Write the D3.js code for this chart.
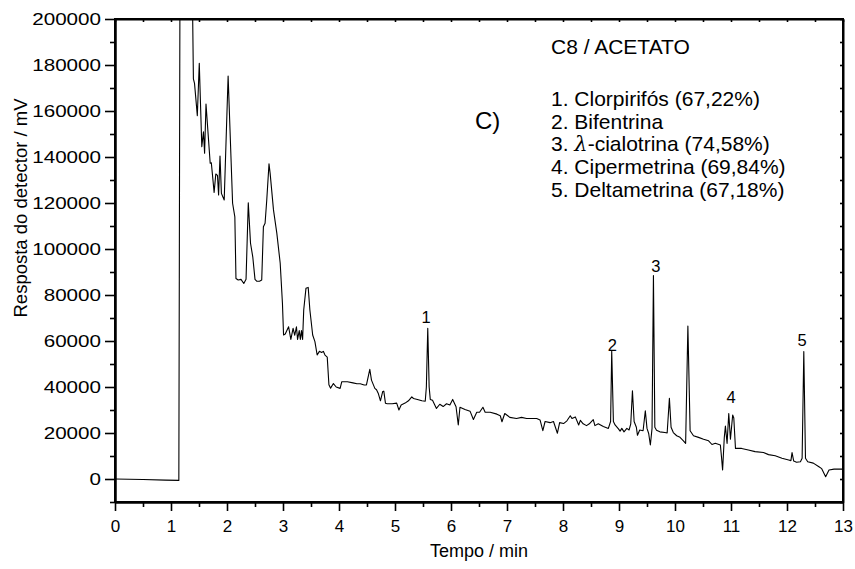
<!DOCTYPE html>
<html><head><meta charset="utf-8">
<script src="https://cdn.jsdelivr.net/npm/d3@7"></script>
<style>
body{margin:0;background:#fff}
svg{display:block}
text{font-family:"Liberation Sans",Arial,Helvetica,sans-serif;fill:#000}
</style>
</head><body>
<svg id="chart" width="855" height="569"></svg>
<script>
// ---- data (retention time in min, detector response in mV) ----
const time = [0,0.5,0.9,1.14,1.16,1.38,1.40,1.42,1.47,1.505,1.55,1.58,1.60,1.625,1.70,1.72,1.77,1.80,1.83,1.85,1.875,1.90,1.95,2.02,2.10,2.14,2.16,2.20,2.25,2.30,2.34,2.38,2.42,2.46,2.50,2.53,2.58,2.62,2.65,2.68,2.71,2.75,2.77,2.83,2.89,2.95,2.99,3.01,3.04,3.10,3.14,3.18,3.21,3.24,3.26,3.29,3.31,3.33,3.35,3.37,3.41,3.45,3.48,3.53,3.57,3.61,3.65,3.69,3.72,3.75,3.79,3.82,3.85,3.90,3.95,4.02,4.05,4.15,4.25,4.32,4.38,4.45,4.49,4.55,4.58,4.64,4.67,4.70,4.74,4.78,4.80,4.83,4.86,4.95,5.03,5.07,5.11,5.18,5.24,5.30,5.33,5.40,5.48,5.54,5.56,5.585,5.61,5.63,5.67,5.74,5.80,5.86,5.92,5.98,6.03,6.09,6.13,6.16,6.25,6.34,6.40,6.46,6.51,6.57,6.61,6.70,6.82,6.88,6.91,6.96,7.05,7.17,7.26,7.35,7.44,7.53,7.59,7.64,7.68,7.77,7.83,7.90,7.94,8.01,8.07,8.13,8.16,8.22,8.28,8.31,8.36,8.42,8.47,8.54,8.57,8.63,8.72,8.81,8.85,8.87,8.90,8.93,8.99,9.02,9.05,9.09,9.14,9.18,9.21,9.24,9.27,9.31,9.33,9.37,9.43,9.47,9.50,9.53,9.56,9.59,9.615,9.64,9.67,9.73,9.82,9.86,9.90,9.93,9.97,10.03,10.09,10.15,10.19,10.23,10.27,10.33,10.42,10.51,10.60,10.66,10.72,10.81,10.83,10.85,10.88,10.90,10.93,10.96,10.99,11.03,11.05,11.08,11.19,11.31,11.43,11.58,11.67,11.79,11.91,12.03,12.07,12.09,12.12,12.17,12.24,12.27,12.30,12.33,12.37,12.47,12.57,12.62,12.69,12.75,12.84,13.0];
const signal = [0,-200,-500,-600,215000,215000,174000,172000,158000,180700,144500,151000,141600,163000,137300,137500,124600,132600,132000,123500,140400,124200,121300,175200,119900,114000,87200,86500,86800,85000,86800,120100,102500,96600,86800,86000,86000,86500,109700,111200,121300,137000,133000,117000,106800,93800,76400,62600,63000,66200,60700,65500,62500,66200,60700,64500,60700,64500,60700,73500,82900,83300,73500,62600,59700,53900,55500,55000,55500,53900,53000,41000,39500,41500,40000,39400,42300,42300,41800,41400,41400,40900,40900,47700,43000,39400,38800,37300,34000,38000,38200,32900,32700,32700,33000,30000,32200,33000,34000,35700,35000,34600,34000,33800,40000,65500,40000,34600,34200,30700,32500,31500,32700,32200,34600,31400,23500,31200,30200,29500,25900,29000,29000,31200,29000,29000,28200,27500,24900,28500,26800,26300,26800,26300,26300,26300,25700,21000,25000,24500,25000,19900,24500,24100,25300,27500,26300,27000,23500,25500,24000,23200,24000,25800,23200,24000,22800,22000,25000,55500,25000,23500,21800,20800,22000,20500,22000,21300,24000,38400,25000,22500,19000,21300,21000,29700,22000,19800,14800,22000,88500,22500,21200,20500,20200,20000,35100,22500,20200,18800,18100,16600,15500,66500,21000,18800,18100,17300,16600,15000,15500,14800,9700,3900,18000,23000,15500,28500,17300,27800,26500,13300,13300,12600,11900,11500,10600,10100,9000,8300,8000,11500,7800,7300,7500,9000,55400,9000,7500,6900,5300,4500,1000,3900,4300,4300];

const xTicks = [0,1,2,3,4,5,6,7,8,9,10,11,12,13];
const yTicks = [0,20000,40000,60000,80000,100000,120000,140000,160000,180000,200000];
const xDomain = [0,13];
const yDomain = [-10000,200000];

const peakLabels = ["1","2","3","4","5"];
const peakLabelTime = [5.554,8.88,9.66,11.0,12.27];
const peakLabelValue = [68000,55700,90000,32900,57800];

const legendTitle = "C8 / ACETATO";
const legendItems = [
  ["1. Clorpirifós (67,22%)"],
  ["2. Bifentrina"],
  ["3. ", "λ", "-cialotrina (74,58%)"],
  ["4. Cipermetrina (69,84%)"],
  ["5. Deltametrina (67,18%)"]
];
const panelLabel = "C)";
const xTitle = "Tempo / min";
const yTitle = "Resposta do detector / mV";

// ---- layout ----
const L = 115, R = 843, T = 19, B = 502;
const svg = d3.select("#chart");
const x = d3.scaleLinear().domain(xDomain).range([L, R]);
const y = d3.scaleLinear().domain(yDomain).range([B, T]);

svg.append("defs").append("clipPath").attr("id","clip")
  .append("rect").attr("x",L).attr("y",T).attr("width",R-L).attr("height",B-T);

// trace
const line = d3.line().x((d,i)=>x(time[i])).y(d=>y(d));
svg.append("path").datum(signal)
  .attr("clip-path","url(#clip)")
  .attr("fill","none").attr("stroke","#000").attr("stroke-width",1.1)
  .attr("stroke-linejoin","round")
  .attr("d", line);

// axes
const fmt = d3.format("d");
const xMinor = d3.range(0.5, 13, 1);
const yMinor = d3.range(-10000, 200001, 20000);

svg.append("g").attr("class","xax").attr("transform",`translate(0,${B})`)
  .call(d3.axisBottom(x).tickValues(xTicks).tickFormat(fmt).tickSize(9).tickSizeOuter(0).tickPadding(9));
svg.append("g").attr("transform",`translate(0,${B})`)
  .call(d3.axisBottom(x).tickValues(xMinor).tickFormat("").tickSize(5).tickSizeOuter(0));
svg.append("g").attr("class","yax").attr("transform",`translate(${L},0)`)
  .call(d3.axisLeft(y).tickValues(yTicks).tickFormat(fmt).tickSize(10).tickSizeOuter(0).tickPadding(4));
svg.append("g").attr("transform",`translate(${L},0)`)
  .call(d3.axisLeft(y).tickValues(yMinor).tickFormat("").tickSize(5).tickSizeOuter(0));
// mirrored inward ticks on top / right
svg.append("g").attr("transform",`translate(0,${T})`)
  .call(d3.axisBottom(x).tickValues(d3.range(0,13.01,0.5)).tickFormat("").tickSize(3).tickSizeOuter(0));
svg.append("g").attr("transform",`translate(${R},0)`)
  .call(d3.axisLeft(y).tickValues(d3.range(-10000,200001,10000)).tickFormat("").tickSize(3).tickSizeOuter(0));

svg.selectAll(".domain").attr("stroke","#000").attr("stroke-width",2);
svg.selectAll(".tick line").attr("stroke","#000").attr("stroke-width",1.6);
svg.selectAll(".tick text").attr("font-family",'"Liberation Sans",Arial,sans-serif').attr("fill","#000");
svg.selectAll(".xax .tick text").attr("font-size",17);
svg.selectAll(".yax .tick text").attr("font-size",16.5)
  .attr("x",0).attr("transform","translate(-14,0) scale(1.25,1)");

// frame
svg.append("rect").attr("x",L).attr("y",T).attr("width",R-L).attr("height",B-T)
  .attr("fill","none").attr("stroke","#000").attr("stroke-width",2);

// titles
svg.append("text").attr("x",(L+R)/2).attr("y",557).attr("text-anchor","middle").attr("font-size",18).text(xTitle);
svg.append("text").attr("transform","translate(27,208) rotate(-90)").attr("text-anchor","middle").attr("font-size",18.5).text(yTitle);

// peak labels
svg.append("g").selectAll("text").data(peakLabels).join("text")
  .attr("x",(d,i)=>x(peakLabelTime[i])).attr("y",(d,i)=>y(peakLabelValue[i]))
  .attr("text-anchor","middle").attr("font-size",16.5).text(d=>d);

// panel label
svg.append("text").attr("x",475).attr("y",129).attr("font-size",24).text(panelLabel);

// legend
const lg = svg.append("g").attr("font-size",21);
lg.append("text").attr("x",551).attr("y",54).text(legendTitle);
lg.selectAll("text.item").data(legendItems).join("text").attr("class","item")
  .attr("x",551).attr("y",(d,i)=>106+i*22.7)
  .each(function(parts){
    const t = d3.select(this);
    parts.forEach(p=>{
      const s = t.append("tspan").text(p);
      if (p === "λ") s.attr("font-style","italic").attr("font-family",'"DejaVu Serif","Liberation Serif",serif');
    });
  });
</script>
</body></html>
